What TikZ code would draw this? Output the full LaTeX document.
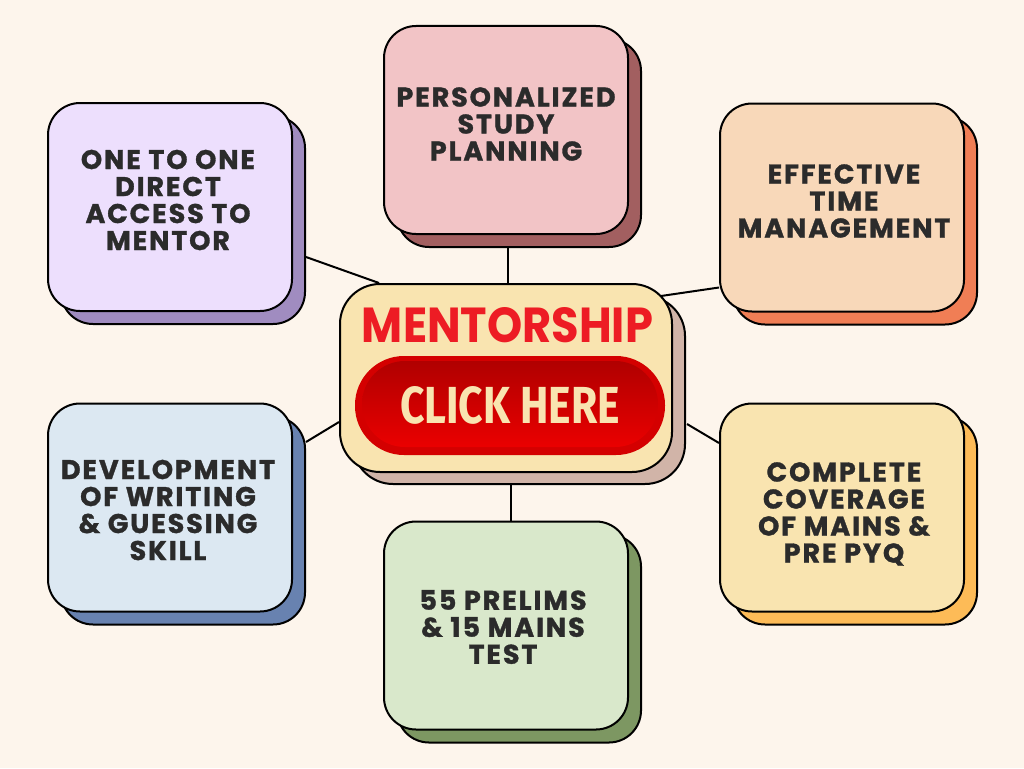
\documentclass[tikz,border=0pt]{standalone}
\usepackage{fontspec}
\setmainfont{Poppins}
\newfontfamily\boxfont{Poppins}[LetterSpace=7,BoldFeatures={FakeBold=1.2}]
\newfontfamily\clickfont{Fira Sans}
\usetikzlibrary{shadows,calc}
\pgfdeclarelayer{background}
\pgfsetlayers{background,main}
\definecolor{bgc}{HTML}{FDF5EC}
\definecolor{txt}{HTML}{2B2B2B}
\definecolor{pF}{HTML}{EDDFFD}\definecolor{pS}{HTML}{A08CC0}
\definecolor{kF}{HTML}{F2C4C6}\definecolor{kS}{HTML}{A25F60}
\definecolor{oF}{HTML}{F8D8B9}\definecolor{oS}{HTML}{F07E55}
\definecolor{bF}{HTML}{DCE8F2}\definecolor{bS}{HTML}{6882B0}
\definecolor{gF}{HTML}{D9E8CB}\definecolor{gS}{HTML}{7D9762}
\definecolor{yF}{HTML}{F9E4B0}\definecolor{yS}{HTML}{FDBB57}
\definecolor{cS}{HTML}{D1B4A8}
\definecolor{mred}{HTML}{ED1C24}
\definecolor{pillout}{HTML}{D40000}
\definecolor{pilltop}{HTML}{B00000}
\definecolor{pillbot}{HTML}{EA0000}
\definecolor{cream}{HTML}{F9E4B0}
\begin{document}
\begin{tikzpicture}[x=1pt,y=-1pt,
  card/.style 2 args={draw=black,line width=2pt,fill=#1,rounded corners=32pt,
     minimum width=244pt,minimum height=208pt,inner sep=0pt,
     general shadow={shadow xshift=13pt,shadow yshift=-13pt,fill=#2,draw=black,line width=2pt}},
  cardtext/.style={font=\boxfont\bfseries\fontsize{27}{27}\selectfont,align=center,text=txt,inner sep=0pt},
  link/.style={draw=black,line width=2pt}]
\begin{pgfonlayer}{background}
\fill[bgc] (0,0) rectangle (1024,768);
\end{pgfonlayer}
\useasboundingbox (0,0) rectangle (1024,768);
% cards
\node[card={pF}{pS}] (tl) at (170,207) {};
\node[card={kF}{kS}] (tm) at (506,130) {};
\node[card={oF}{oS}] (tr) at (842,207.5) {};
\node[card={bF}{bS}] (bl) at (170,507.5) {};
\node[card={gF}{gS}] (bm) at (506,625.5) {};
\node[card={yF}{yS}] (br) at (842,507.5) {};
% center
\node[draw=black,line width=2pt,fill=yF,rounded corners=40pt,minimum width=332pt,minimum height=188pt,inner sep=0pt,
  general shadow={shadow xshift=13pt,shadow yshift=-12pt,fill=cS,draw=black,line width=2pt}] (c) at (506,378) {};
\node[fill=pillout,rounded corners=49pt,minimum width=310pt,minimum height=99pt,inner sep=0pt] (pill) at (510,405.5) {};
\node[top color=pilltop,bottom color=pillbot,rounded corners=43pt,minimum width=296pt,minimum height=86pt,inner sep=0pt] (pillin) at (510,404) {};
\node[inner sep=0pt,text=mred] (ment) at (507.5,325.5) {\resizebox{291pt}{35pt}{\bfseries MENTORSHIP}};
\node[inner sep=0pt,text=cream] (click) at (510,405.5) {\resizebox{220pt}{37pt}{\clickfont\bfseries CLICK HERE}};
% texts
\node[cardtext] (tlt) at (168,200) {ONE TO ONE\\DIRECT\\ACCESS TO\\MENTOR};
\node[cardtext] (tmt) at (506,124) {PERSONALIZED\\STUDY\\PLANNING};
\node[cardtext] (trt) at (844,201) {EFFECTIVE\\TIME\\MANAGEMENT};
\node[cardtext] (blt) at (168,510) {DEVELOPMENT\\OF WRITING\\\& GUESSING\\SKILL};
\node[cardtext] (bmt) at (503,627) {55 PRELIMS\\\& 15 MAINS\\TEST};
\node[cardtext] (brt) at (844,514) {COMPLETE\\COVERAGE\\OF MAINS \&\\PRE PYQ};
% connectors
\begin{pgfonlayer}{background}
\draw[link] ($(tl.east)+(13,50)$) -- ($(c.north west)+(40,0)$);
\draw[link] ($(tm.south)+(2,13)$) -- ($(c.north)+(2,0)$);
\draw[link] ($(c.north east)+(-12,13)$) -- ($(tr.west)+(0,80)$);
\draw[link] ($(bl.east)+(13,-65.5)$) -- ($(c.west)+(0,44)$);
\draw[link] ($(c.east)+(14,46)$) -- ($(br.west)+(0,-64.5)$);
\draw[link] ($(c.south)+(5,12)$) -- ($(bm.north)+(5,0)$);
\end{pgfonlayer}
\end{tikzpicture}
\end{document}
